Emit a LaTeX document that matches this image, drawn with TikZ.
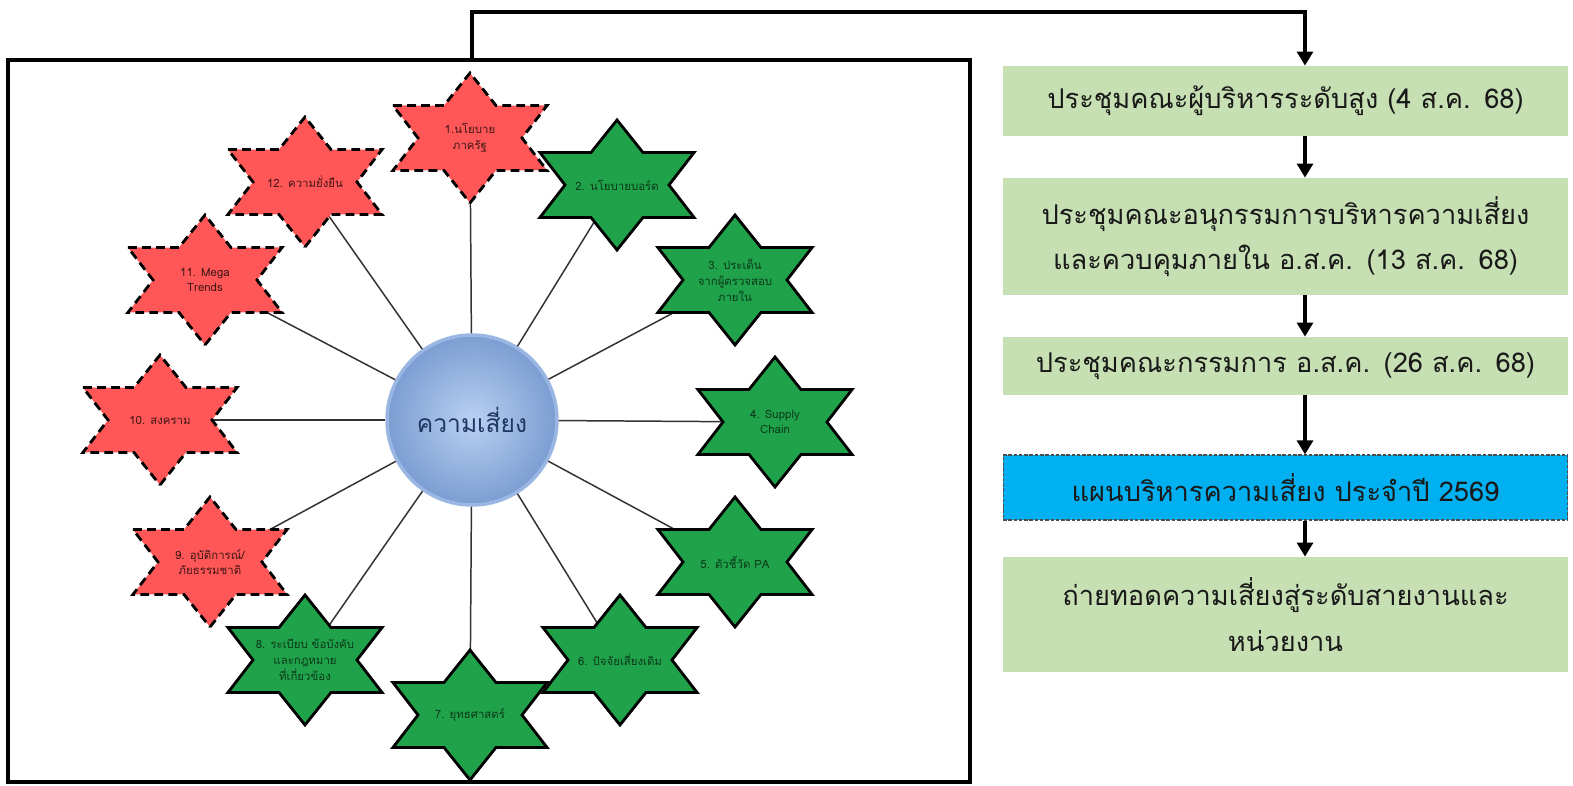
\documentclass[tikz,border=0pt]{standalone}
\usepackage{fontspec}
\usepackage{tikz}
\usetikzlibrary{arrows.meta}
\newfontfamily\thaifont[Script=Thai]{Loma}
\definecolor{riskred}{HTML}{FF5757}
\definecolor{riskgreen}{HTML}{1FA24A}
\definecolor{stepgreen}{HTML}{C6DFB3}
\definecolor{planblue}{HTML}{00B0F0}
\definecolor{hubin}{HTML}{B9D0F2}
\definecolor{hubout}{HTML}{7C9DD2}
\definecolor{hubring}{HTML}{9AB6E3}
\definecolor{hubtext}{HTML}{1F3763}
% six-pointed star, stretched sideways
\newcommand{\hexstar}[2]{%
    \draw[#1, shift={(#2)}] (90:89 and 65)
        \foreach \a in {60,0,-60,-120,-180,-240} { -- (\a:52 and 37.5) -- ({\a-30}:89 and 65) } -- cycle;
}
\tikzset{
    redstar/.style={fill=riskred, draw=black, line width=1.6pt, dash pattern=on 5pt off 3pt},
    greenstar/.style={fill=riskgreen, draw=black, line width=1.6pt},
    redtext/.style={font=\thaifont\fontsize{6.5}{9}\selectfont, align=center, text=riskred!25!black},
    greentext/.style={font=\thaifont\fontsize{6.5}{9}\selectfont, align=center, text=riskgreen!35!black},
    spoke/.style={draw=black!80, line width=0.85pt},
    hubball/.style={circle, minimum size=3.4cm, inner color=hubin, outer color=hubout, draw=hubring, line width=2pt,
        font=\thaifont\fontsize{14}{16}\selectfont, text=hubtext},
    stepbox/.style={fill=stepgreen, minimum width=11.3cm, text width=11cm, align=center,
        font=\thaifont\fontsize{15.5}{26}\selectfont, text=black!90},
    planbox/.style={stepbox, fill=planblue, draw=black!70, line width=0.6pt, dash pattern=on 2pt off 1pt},
    flow/.style={line width=2.3pt, -{Triangle[length=8pt, width=9pt]}},
    frame/.style={draw=black, line width=2.3pt, minimum width=19.24cm, minimum height=14.44cm}
}

\begin{document}
\begin{tikzpicture}[x=0.02cm, y=-0.02cm]
    \useasboundingbox (0,0) rectangle (1573,786);

    % left panel
    \node[frame] (frame) at (489,421) {};
    \node[hubball] (hub) at (472,420) {ความเสี่ยง};

    \foreach \i/\x/\y in {1/470/138, 2/617/185, 3/735/280, 4/775/422, 5/735/562, 6/620/660,
                          7/470/715, 8/305/660, 9/210/562, 10/160/420, 11/205/280, 12/305/182}
        \coordinate (r\i) at (\x,\y);
    \foreach \i in {1,...,12}
        \draw[spoke] (hub) -- (r\i);

    \hexstar{redstar}{r1}
    \hexstar{greenstar}{r2}
    \hexstar{greenstar}{r3}
    \hexstar{greenstar}{r4}
    \hexstar{greenstar}{r5}
    \hexstar{greenstar}{r6}
    \hexstar{greenstar}{r7}
    \hexstar{greenstar}{r8}
    \hexstar{redstar}{r9}
    \hexstar{redstar}{r10}
    \hexstar{redstar}{r11}
    \hexstar{redstar}{r12}

    \node[redtext] (s1) at (r1) {1.นโยบาย\\ภาครัฐ};
    \node[greentext] (s2) at (r2) {2. นโยบายบอร์ด};
    \node[greentext] (s3) at (r3) {3. ประเด็น\\จากผู้ตรวจสอบ\\ภายใน};
    \node[greentext] (s4) at (r4) {4. Supply\\Chain};
    \node[greentext] (s5) at (r5) {5. ตัวชี้วัด PA};
    \node[greentext] (s6) at (r6) {6. ปัจจัยเสี่ยงเดิม};
    \node[greentext] (s7) at (r7) {7. ยุทธศาสตร์};
    \node[greentext] (s8) at (r8) {8. ระเบียบ ข้อบังคับ\\และกฎหมาย\\ที่เกี่ยวข้อง};
    \node[redtext] (s9) at (r9) {9. อุบัติการณ์/\\ภัยธรรมชาติ};
    \node[redtext] (s10) at (r10) {10. สงคราม};
    \node[redtext] (s11) at (r11) {11. Mega\\Trends};
    \node[redtext] (s12) at (r12) {12. ความยั่งยืน};

    % right column
    \node[stepbox, minimum height=1.4cm] (b1) at (1285.5,101) {ประชุมคณะผู้บริหารระดับสูง (4 ส.ค. 68)};
    \node[stepbox, minimum height=2.34cm] (b2) at (1285.5,236.5) {ประชุมคณะอนุกรรมการบริหารความเสี่ยง\\และควบคุมภายใน อ.ส.ค. (13 ส.ค. 68)};
    \node[stepbox, minimum height=1.16cm] (b3) at (1285.5,366) {ประชุมคณะกรรมการ อ.ส.ค. (26 ส.ค. 68)};
    \node[planbox, minimum height=1.3cm] (b4) at (1285.5,487.5) {แผนบริหารความเสี่ยง ประจำปี 2569};
    \node[stepbox, minimum height=2.3cm] (b5) at (1285.5,614.5) {ถ่ายทอดความเสี่ยงสู่ระดับสายงานและ\\หน่วยงาน};

    \coordinate (spine) at (1305,12);
    \draw[flow] (frame.north -| hub) |- (spine) -- (b1.north -| spine);
    \draw[flow] (b1.south -| spine) -- (b2.north -| spine);
    \draw[flow] (b2.south -| spine) -- (b3.north -| spine);
    \draw[flow] (b3.south -| spine) -- (b4.north -| spine);
    \draw[flow] (b4.south -| spine) -- (b5.north -| spine);
\end{tikzpicture}
\end{document}
